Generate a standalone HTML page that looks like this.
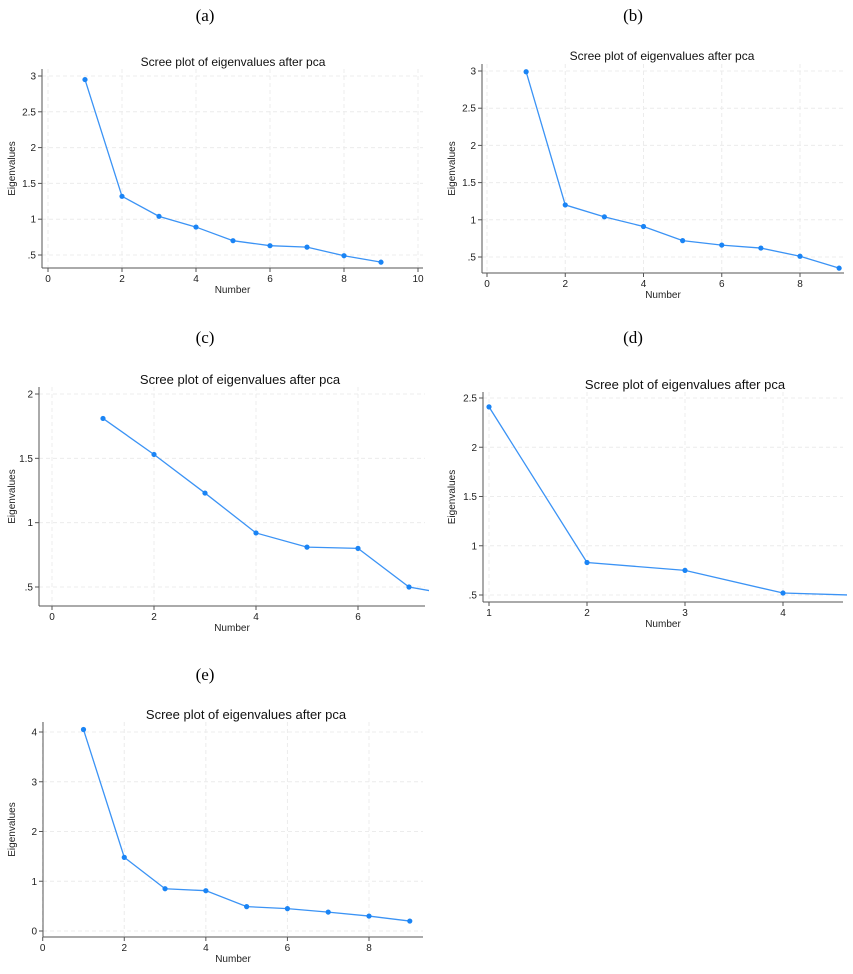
<!DOCTYPE html>
<html><head><meta charset="utf-8"><style>
body{margin:0;background:#fff;}
svg{display:block;font-family:"Liberation Sans",sans-serif;}
.lab{font-family:"Liberation Serif",serif;font-size:17px;fill:#000;}
</style></head><body>
<svg id="chart" width="853" height="974" viewBox="0 0 853 974">
<text class="lab" x="205" y="21" text-anchor="middle">(a)</text>
<text class="lab" x="633" y="21" text-anchor="middle">(b)</text>
<text class="lab" x="205" y="343" text-anchor="middle">(c)</text>
<text class="lab" x="633" y="343" text-anchor="middle">(d)</text>
<text class="lab" x="205" y="680" text-anchor="middle">(e)</text>
</svg>
<script>
const valuesA=[2.95,1.32,1.04,0.89,0.70,0.63,0.61,0.49,0.40];
const valuesB=[2.99,1.20,1.04,0.91,0.72,0.66,0.62,0.51,0.35];
const valuesC=[1.81,1.53,1.23,0.92,0.81,0.80,0.50,0.43];
const valuesD=[2.41,0.83,0.75,0.52,0.49];
const valuesE=[4.05,1.48,0.85,0.81,0.49,0.45,0.38,0.30,0.20];
const xTicksA=[0,2,4,6,8,10], yTicksA=[0.5,1,1.5,2,2.5,3];
const xTicksB=[0,2,4,6,8], yTicksB=[0.5,1,1.5,2,2.5,3];
const xTicksC=[0,2,4,6], yTicksC=[0.5,1,1.5,2];
const xTicksD=[1,2,3,4], yTicksD=[0.5,1,1.5,2,2.5];
const xTicksE=[0,2,4,6,8], yTicksE=[0,1,2,3,4];

const NS="http://www.w3.org/2000/svg";
const svg=document.getElementById('chart');
function mk(tag,attrs,parent){const e=document.createElementNS(NS,tag);for(const k in attrs)e.setAttribute(k,attrs[k]);(parent||svg).appendChild(e);return e;}
function fmt(v){let s=String(v);if(s.startsWith('0.'))s=s.slice(1);return s;}

function panel(id,vals,xt,yt,L){
  const g=mk('g',{});
  
  
  const xs=v=>L.x0+(v-L.xv0)*(L.x1-L.x0)/(L.xv1-L.xv0);
  const ys=v=>L.y0+(v-L.yv0)*(L.y1-L.y0)/(L.yv1-L.yv0);
  const cid='clip-'+id;
  const cp=mk('clipPath',{id:cid},g);
  mk('rect',{x:L.ax,y:L.top,width:L.right-L.ax+4,height:L.bot-L.top},cp);
  yt.forEach(v=>{const l=mk('line',{x1:L.ax,x2:L.right,y1:ys(v),y2:ys(v),stroke:'#ececec','stroke-dasharray':'4,3','stroke-width':1},g);
    });
  xt.forEach(v=>{const l=mk('line',{x1:xs(v),x2:xs(v),y1:L.top,y2:L.bot,stroke:'#ececec','stroke-dasharray':'4,3','stroke-width':1},g);
    });
  const ya=mk('line',{x1:L.ax,x2:L.ax,y1:L.top,y2:L.bot,stroke:'#555','stroke-width':1},g);
  
  const xa=mk('line',{x1:L.ax,x2:L.right,y1:L.bot,y2:L.bot,stroke:'#555','stroke-width':1},g);
  
  yt.forEach(v=>{mk('line',{x1:L.ax-4,x2:L.ax,y1:ys(v),y2:ys(v),stroke:'#555'},g);
    const t=mk('text',{x:L.ax-6,y:ys(v)+3.5,'text-anchor':'end','font-size':10,fill:'#222'},g);t.textContent=fmt(v);
    });
  xt.forEach(v=>{mk('line',{x1:xs(v),x2:xs(v),y1:L.bot,y2:L.bot+4,stroke:'#555'},g);
    const t=mk('text',{x:xs(v),y:L.bot+14,'text-anchor':'middle','font-size':10,fill:'#222'},g);t.textContent=fmt(v);
    });
  const tt=mk('text',{x:L.tx,y:L.ty,'text-anchor':'middle','font-size':L.tf,fill:'#111'},g);tt.textContent='Scree plot of eigenvalues after pca';
  
  const xl=mk('text',{x:(L.ax+L.right)/2,y:L.bot+25,'text-anchor':'middle','font-size':10,fill:'#222'},g);xl.textContent='Number';
  
  const my=(L.top+L.bot)/2;
  const yl=mk('text',{x:L.ylx,y:my,'text-anchor':'middle','font-size':10,fill:'#222',transform:'rotate(-90 '+L.ylx+' '+my+')'},g);yl.textContent='Eigenvalues';
  
  const pg=mk('g',{'clip-path':'url(#'+cid+')'},g);
  const pts=vals.map((v,i)=>xs(i+1)+','+ys(v)).join(' ');
  const pl=mk('polyline',{points:pts,fill:'none',stroke:'#3b93f5','stroke-width':1.3},pg);
  
  vals.forEach((v,i)=>{const c=mk('circle',{cx:xs(i+1),cy:ys(v),r:2.6,fill:'#1a84f5'},pg);
    });
}
panel('a',valuesA,xTicksA,yTicksA,{x0:48,xv0:0,x1:418,xv1:10,y0:255,yv0:0.5,y1:76,yv1:3,ax:42,right:423,top:69,bot:268,tx:233,ty:66,tf:12,ylx:15});
panel('b',valuesB,xTicksB,yTicksB,{x0:487,xv0:0,x1:800,xv1:8,y0:257,yv0:0.5,y1:71,yv1:3,ax:482,right:844,top:64,bot:273,tx:662,ty:60,tf:12,ylx:455});
panel('c',valuesC,xTicksC,yTicksC,{x0:52,xv0:0,x1:358,xv1:6,y0:587,yv0:0.5,y1:394,yv1:2,ax:39,right:425,top:387,bot:606,tx:240,ty:384,tf:13,ylx:15});
panel('d',valuesD,xTicksD,yTicksD,{x0:489,xv0:1,x1:783,xv1:4,y0:595,yv0:0.5,y1:398,yv1:2.5,ax:483,right:843,top:392,bot:602,tx:685,ty:389,tf:13,ylx:455});
panel('e',valuesE,xTicksE,yTicksE,{x0:42.7,xv0:0,x1:369,xv1:8,y0:931,yv0:0,y1:732,yv1:4,ax:43,right:423,top:722,bot:937,tx:246,ty:719,tf:13,ylx:15});
</script>
</body></html>
